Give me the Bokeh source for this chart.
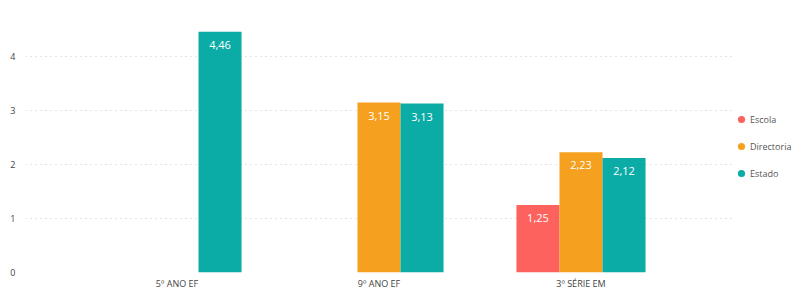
from bokeh.plotting import figure
from bokeh.layouts import row
from bokeh.models import ColumnDataSource, FactorRange, Legend, LegendItem, LabelSet
from bokeh.transform import dodge
from bokeh.core.properties import value
from bokeh.embed import file_html
from bokeh.resources import INLINE

categories = ["5º ANO EF", "9º ANO EF", "3º SÉRIE EM"]
series = ["Escola", "Directoria", "Estado"]
escola = [None, None, 1.25]
directoria = [None, 3.15, 2.23]
estado = [4.46, 3.13, 2.12]
y_ticks = [0, 1, 2, 3, 4]
colors = ["#FD625E", "#F5A01E", "#0BABA6"]

FONT = "Open Sans"

p = figure(x_range=FactorRange(factors=categories, range_padding=0.25,
                               range_padding_units="absolute"),
           y_range=(0, 5.04), width=732, frame_height=272,
           output_backend="svg", toolbar_location=None,
           min_border_left=25, min_border_right=0, min_border_top=0,
           min_border_bottom=0, outline_line_color=None)

p2 = figure(x_range=p.x_range, y_range=p.y_range, width=64, height=286,
            x_axis_type=None, y_axis_type=None,
            output_backend="svg", toolbar_location=None,
            min_border_left=0, min_border_right=0, min_border_top=0,
            min_border_bottom=0, outline_line_color=None)
p2.grid.visible = False

offsets = [-0.213, 0.0, 0.213]
vals = [escola, directoria, estado]
items = []
for name, v, off, c in zip(series, vals, offsets, colors):
    cats = [cat for cat, val in zip(categories, v) if val is not None]
    ys = [val for val in v if val is not None]
    labels = [f"{val:.2f}".replace(".", ",") for val in ys]
    src = ColumnDataSource(dict(x=cats, top=ys, lab=labels))
    p.vbar(x=dodge("x", off, range=p.x_range), top="top", width=0.213,
           source=src, fill_color=c, line_color=None)
    p.add_layout(LabelSet(x=dodge("x", off, range=p.x_range), y="top", text="lab",
                          source=src, text_align="center", text_baseline="top",
                          y_offset=-9, text_color="white", text_font=value(FONT),
                          text_font_size="11px"))
    leg = p2.scatter(x=dodge("x", off, range=p.x_range), y="top", source=src,
                     size=0, marker="circle", fill_color=c, line_color=None)
    items.append(LegendItem(label=name, renderers=[leg]))

legend = Legend(items=items, location=(0, 83), border_line_color=None,
                background_fill_alpha=0, glyph_width=18, glyph_height=20,
                label_height=20, spacing=7, label_standoff=-4, padding=0, margin=0,
                label_text_font=FONT, label_text_font_size="9px",
                label_text_color="#555555")
p2.add_layout(legend, "center")

p.yaxis.ticker = y_ticks
p.yaxis.axis_line_color = None
p.yaxis.major_tick_line_color = None
p.yaxis.minor_tick_line_color = None
p.yaxis.major_tick_out = 0
p.yaxis.minor_tick_out = 0
p.yaxis.major_label_text_font = FONT
p.yaxis.major_label_text_font_size = "9px"
p.yaxis.major_label_text_color = "#444444"
p.yaxis.major_label_standoff = 10

p.xaxis.axis_line_color = None
p.xaxis.major_tick_line_color = None
p.xaxis.major_tick_out = 0
p.xaxis.minor_tick_out = 0
p.xaxis.major_label_text_font = FONT
p.xaxis.major_label_text_font_size = "9px"
p.xaxis.major_label_text_color = "#444444"
p.xaxis.major_label_standoff = 4

p.xgrid.grid_line_color = None
p.ygrid.grid_line_color = "#C8C8C8"
p.ygrid.grid_line_dash = "1 4"
p.ygrid.grid_line_width = 1

open("out.html", "w").write(file_html(row(p, p2), INLINE))
